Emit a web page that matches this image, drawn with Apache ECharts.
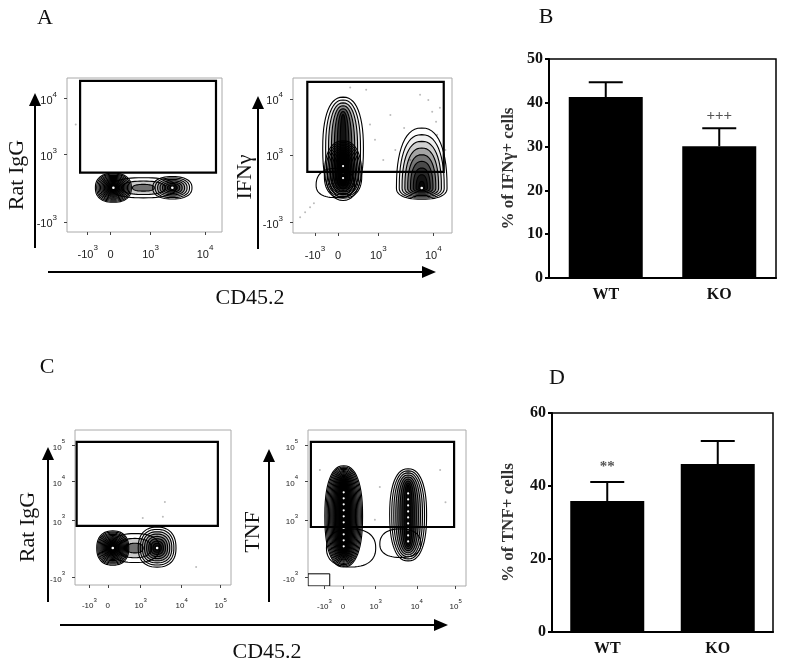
<!DOCTYPE html>
<html><head><meta charset="utf-8">
<script src="https://cdn.jsdelivr.net/npm/echarts@6/dist/echarts.min.js"></script>
<style>html,body{margin:0;padding:0;background:#fff}#c{width:787px;height:668px}</style>
</head><body><div id="c"></div>
<script>
// ---------- bar chart data ----------
const categories = ['WT', 'KO'];
const ifnMean = [41.3, 30.1];
const ifnErr = [3.4, 4.1];
const ifnSig = ['', '+++'];
const tnfMean = [35.9, 46.0];
const tnfErr = [5.2, 6.3];
const tnfSig = ['**', ''];

// ---------- flow axes (display units, biexponential) ----------
const rowAXTicks = [-0.42, 0, 0.73, 1.73];
const rowAXLabels = [['-10', '3'], ['0', ''], ['10', '3'], ['10', '4']];
const rowAYTicks = [-0.61, 0.59, 1.59];
const rowAYLabels = [['-10', '3'], ['10', '3'], ['10', '4']];
const rowCXTicks = [-0.45, 0, 0.8, 1.8, 2.75];
const rowCXLabels = [['-10', '3'], ['0', ''], ['10', '3'], ['10', '4'], ['10', '5']];
const rowCYTicks = [-0.76, 0.74, 1.76, 2.71];
const rowCYLabels = [['-10', '3'], ['10', '3'], ['10', '4'], ['10', '5']];

// gates [x0, y0, x1, y1]
const gateA1 = [[-0.56, 0.27, 1.93, 1.91]];
const gateA2 = [[-0.56, 0.29, 1.92, 1.89]];
const gateC1 = [[-0.76, 0.58, 2.68, 2.79]];
const gateC2 = [[-0.78, 0.55, 2.71, 2.79]];
const smallGateC2 = [[-0.85, -1.0, -0.32, -0.68]];

// contour populations [cx, cy, rx, ryUp, ryDown, levels, mode(0 prop,1 column)]
const popsA1 = [
  [0.05, 0, 0.33, 0.26, 0.26, 14, 0],
  [1.13, 0, 0.36, 0.2, 0.2, 8, 0],
  [0.6, 0, 0.6, 0.18, 0.18, 3, 0]
];
const popsA2 = [
  [0.09, 0.7, 0.37, 0.92, 0.92, 7, 1],
  [0.09, 0.22, 0.34, 0.62, 0.4, 12, 1],
  [-0.05, 0.05, 0.35, 0.3, 0.22, 1, 0],
  [1.52, 0, 0.46, 1.07, 0.2, 9, 0]
];
const popsC1 = [
  [0.12, 0, 0.39, 0.45, 0.45, 15, 0],
  [1.2, 0, 0.46, 0.55, 0.5, 9, 0],
  [0.66, 0, 0.6, 0.38, 0.38, 3, 0]
];
const popsC2 = [
  [0.02, 0.84, 0.46, 1.32, 1.34, 16, 1],
  [0.2, 0.0, 0.6, 0.5, 0.5, 1, 0],
  [1.59, 0.87, 0.45, 1.21, 1.21, 9, 1],
  [1.4, 0.1, 0.5, 0.4, 0.35, 1, 0]
];

// sparse events
const dotsA1 = [[-0.64, 1.13]];
const dotsA2 = [[-0.69, -0.52], [-0.6, -0.43], [-0.51, -0.34], [-0.44, -0.27], [0.58, 1.13], [0.67, 0.86],
  [0.95, 1.3], [1.2, 1.07], [1.64, 1.57], [1.71, 1.36], [1.78, 1.18], [1.8, 0.95], [1.85, 1.43], [1.04, 0.68],
  [0.82, 0.5], [0.51, 1.75], [0.22, 1.79], [1.31, 0.5], [1.49, 1.66], [1.95, 0.68]];
const dotsC1 = [[1.39, 1.21], [1.34, 0.82], [0.85, 0.79], [2.15, -0.5]];
const dotsC2 = [[-0.56, 2.05], [0.78, 0.74], [2.37, 2.05], [0.9, 1.6], [2.5, 1.2]];

// ---------- helpers ----------
const SERIF = '"Liberation Serif", "Times New Roman", serif';
const SANS = '"Liberation Sans", Arial, sans-serif';

function fmt(ticks, labels) {
  return function (v) {
    const i = ticks.findIndex(t => Math.abs(t - v) < 1e-6);
    if (i < 0) return '';
    const b = labels[i][0], s = labels[i][1];
    return s ? '{b|' + b + '}{s|' + s + '}' : '{b|' + b + '}';
  };
}
function richFor(bs, ss) {
  return {
    b: { fontSize: bs, fontFamily: SANS, color: '#222', lineHeight: bs + 5, verticalAlign: 'bottom' },
    s: { fontSize: ss, fontFamily: SANS, color: '#222', lineHeight: bs + 5, verticalAlign: 'top' }
  };
}
function flowAxis(grid, min, max, ticks, labels, bs, ss, margin) {
  return {
    type: 'value', gridIndex: grid, min: min, max: max,
    axisLine: { show: false, onZero: false },
    splitLine: { show: false },
    axisTick: { show: true, customValues: ticks, length: 3, lineStyle: { color: '#444', width: 1 } },
    axisLabel: { customValues: ticks, formatter: fmt(ticks, labels), rich: richFor(bs, ss), margin: margin }
  };
}
function ringPoints(c, a, bu, bd) {
  const pts = [];
  for (let i = 0; i < 56; i++) {
    const th = i / 56 * Math.PI * 2, co = Math.cos(th), si = Math.sin(th);
    const ex = Math.sign(co) * Math.pow(Math.abs(co), 0.85), ey = Math.sign(si) * Math.pow(Math.abs(si), 0.85);
    pts.push([c[0] + a * ex, c[1] - (si > 0 ? bu : bd) * ey]);
  }
  return pts;
}
function renderContour(params, api) {
  const cx = api.value(0), cy = api.value(1), rx = api.value(2), ru = api.value(3), rd = api.value(4);
  const n = api.value(5), mode = api.value(6);
  const c = api.coord([cx, cy]);
  const sz = api.size([rx, ru]);
  const rxp = sz[0], rup = sz[1], rdp = api.size([rx, rd])[1];
  const children = [];
  let last = null;
  for (let k = 0; k < n; k++) {
    const t = k / n;
    let a, bu, bd;
    if (mode === 0) { a = rxp * (1 - t); bu = rup * (1 - t); bd = rdp * (1 - t); }
    else { const d = rxp * t; a = Math.max(rxp - d, 0.8); bu = Math.max(rup - d, 1); bd = Math.max(rdp - d, 1); }
    last = [a, bu, bd];
    const alpha = 0.7 * Math.pow(t, 1.1);
    children.push({ type: 'polygon', shape: { points: ringPoints(c, a, bu, bd) },
      style: { fill: 'rgba(0,0,0,' + alpha.toFixed(3) + ')', stroke: '#000', lineWidth: 1.1 } });
  }
  if (n >= 8) {
    if (mode === 0) {
      children.push({ type: 'circle', shape: { cx: c[0], cy: c[1], r: 1.3 }, style: { fill: '#fff' } });
    } else {
      const top = c[1] - last[1] + 3, bot = c[1] + last[2] - 3;
      for (let y = bot; y >= top; y -= 6) {
        children.push({ type: 'circle', shape: { cx: c[0], cy: y, r: 1.1 }, style: { fill: '#fff' } });
      }
    }
  }
  const cs = params.coordSys;
  return { type: 'group', children: children,
    clipPath: { type: 'rect', shape: { x: cs.x, y: cs.y, width: cs.width, height: cs.height } } };
}
function renderGate(lw) {
  return function (params, api) {
    const p0 = api.coord([api.value(0), api.value(1)]);
    const p1 = api.coord([api.value(2), api.value(3)]);
    const cs = params.coordSys;
    return { type: 'rect', shape: { x: Math.min(p0[0], p1[0]), y: Math.min(p0[1], p1[1]),
      width: Math.abs(p1[0] - p0[0]), height: Math.abs(p1[1] - p0[1]) },
      style: { fill: null, stroke: '#000', lineWidth: lw },
      clipPath: { type: 'rect', shape: { x: cs.x, y: cs.y, width: cs.width, height: cs.height } } };
  };
}
function flowSeries(idx, pops, gates, dots) {
  return [
    { type: 'scatter', xAxisIndex: idx, yAxisIndex: idx, data: dots, symbolSize: 2, itemStyle: { color: '#aaa' }, silent: true, z: 2 },
    { type: 'custom', xAxisIndex: idx, yAxisIndex: idx, data: pops, renderItem: renderContour, silent: true, z: 3 },
    { type: 'custom', xAxisIndex: idx, yAxisIndex: idx, data: gates, renderItem: renderGate(2.2), silent: true, z: 4 }
  ];
}
function barAxes(grid, max, interval, name) {
  return {
    x: { type: 'category', gridIndex: grid, data: categories,
      axisLine: { lineStyle: { color: '#000', width: 2 } },
      axisTick: { alignWithLabel: true, length: 4, lineStyle: { color: '#000', width: 2 } },
      axisLabel: { fontFamily: SERIF, fontSize: 16, fontWeight: 'bold', color: '#111', margin: 9 } },
    y: { type: 'value', gridIndex: grid, min: 0, max: max, interval: interval,
      name: name, nameLocation: 'middle', nameGap: 32,
      nameTextStyle: { fontFamily: SERIF, fontSize: 17, fontWeight: 'bold', color: '#333' },
      axisLine: { show: true, onZero: false, lineStyle: { color: '#000', width: 2 } },
      axisTick: { show: true, length: 4, lineStyle: { color: '#000', width: 2 } },
      splitLine: { show: false },
      axisLabel: { fontFamily: SERIF, fontSize: 16, fontWeight: 'bold', color: '#111', margin: 6 } }
  };
}
function barSeries(idx, mean, err, sig, sigOffset) {
  const rows = mean.map((m, i) => [i, m, err[i]]);
  return [
    { type: 'bar', xAxisIndex: idx, yAxisIndex: idx, data: mean, barWidth: 74, itemStyle: { color: '#000' }, silent: true, z: 2 },
    { type: 'custom', xAxisIndex: idx, yAxisIndex: idx, data: rows, silent: true, z: 3,
      renderItem: function (params, api) {
        const i = api.value(0), m = api.value(1), e = api.value(2);
        const pb = api.coord([i, m]), pt = api.coord([i, m + e]);
        const hw = 17;
        const children = [
          { type: 'line', shape: { x1: pb[0], y1: pb[1], x2: pt[0], y2: pt[1] }, style: { stroke: '#000', lineWidth: 2 } },
          { type: 'line', shape: { x1: pt[0] - hw, y1: pt[1], x2: pt[0] + hw, y2: pt[1] }, style: { stroke: '#000', lineWidth: 2 } }
        ];
        const s = sig[params.dataIndex];
        if (s) children.push({ type: 'text', x: pt[0], y: pt[1] - sigOffset,
          style: { text: s, fontFamily: SERIF, fontSize: 15, fontWeight: 'bold', fill: '#555', align: 'center', verticalAlign: 'middle', textAlign: 'center', textVerticalAlign: 'middle' } });
        return { type: 'group', children: children };
      } }
  ];
}

// ---------- build option ----------
const bB = barAxes(2, 50, 10, '% of IFNγ+ cells');
const bD = barAxes(5, 60, 20, '% of TNF+ cells');
bD.y.nameGap = 35;

const flowGrid = { show: true, borderColor: '#aaa', borderWidth: 1, backgroundColor: 'transparent' };
const barGrid = { show: true, borderColor: '#000', borderWidth: 1.5, backgroundColor: 'transparent' };

function txt(x, y, text, size, rot) {
  return { type: 'text', x: x, y: y, rotation: rot || 0, z: 10,
    style: { text: text, fontFamily: SERIF, fontSize: size, fill: '#111', align: 'center', verticalAlign: 'middle', textAlign: 'center', textVerticalAlign: 'middle' } };
}
function vArrow(x, y0, y1) {
  return [
    { type: 'line', z: 10, shape: { x1: x, y1: y0, x2: x, y2: y1 + 8 }, style: { stroke: '#000', lineWidth: 2 } },
    { type: 'polygon', z: 10, shape: { points: [[x, y1], [x - 6, y1 + 13], [x + 6, y1 + 13]] }, style: { fill: '#000' } }
  ];
}
function hArrow(y, x0, x1) {
  return [
    { type: 'line', z: 10, shape: { x1: x0, y1: y, x2: x1 - 8, y2: y }, style: { stroke: '#000', lineWidth: 2 } },
    { type: 'polygon', z: 10, shape: { points: [[x1, y], [x1 - 14, y - 6], [x1 - 14, y + 6]] }, style: { fill: '#000' } }
  ];
}

const option = {
  animation: false,
  backgroundColor: '#fff',
  grid: [
    Object.assign({ left: 67, top: 78, width: 155, height: 154 }, flowGrid),
    Object.assign({ left: 293, top: 78, width: 159, height: 155 }, flowGrid),
    Object.assign({ left: 549, top: 59, width: 227, height: 219 }, barGrid),
    Object.assign({ left: 75, top: 430, width: 156, height: 155 }, flowGrid),
    Object.assign({ left: 308, top: 430, width: 158, height: 156 }, flowGrid),
    Object.assign({ left: 552, top: 413, width: 221, height: 219 }, barGrid)
  ],
  xAxis: [
    flowAxis(0, -0.8, 2.04, rowAXTicks, rowAXLabels, 11, 8, 12),
    flowAxis(1, -0.82, 2.07, rowAXTicks, rowAXLabels, 11, 8, 12),
    bB.x,
    flowAxis(3, -0.8, 3.0, rowCXTicks, rowCXLabels, 8, 6, 12),
    flowAxis(4, -0.85, 3.0, rowCXTicks, rowCXLabels, 8, 6, 12),
    bD.x
  ],
  yAxis: [
    flowAxis(0, -0.79, 1.96, rowAYTicks, rowAYLabels, 11, 8, 10),
    flowAxis(1, -0.8, 1.96, rowAYTicks, rowAYLabels, 11, 8, 10),
    bB.y,
    flowAxis(3, -0.97, 3.1, rowCYTicks, rowCYLabels, 8, 6, 10),
    flowAxis(4, -1.0, 3.1, rowCYTicks, rowCYLabels, 8, 6, 10),
    bD.y
  ],
  series: [].concat(
    flowSeries(0, popsA1, gateA1, dotsA1),
    flowSeries(1, popsA2, gateA2, dotsA2),
    barSeries(2, ifnMean, ifnErr, ifnSig, 12),
    flowSeries(3, popsC1, gateC1, dotsC1),
    flowSeries(4, popsC2, gateC2, dotsC2),
    [{ type: 'custom', xAxisIndex: 4, yAxisIndex: 4, data: smallGateC2, renderItem: renderGate(1), silent: true, z: 4 }],
    barSeries(5, tnfMean, tnfErr, tnfSig, 15)
  ),
  graphic: [].concat(
    [txt(45, 18, 'A', 22), txt(546, 17, 'B', 22), txt(47, 367, 'C', 22), txt(557, 378, 'D', 22)],
    vArrow(35, 248, 93), vArrow(258, 249, 96), hArrow(272, 48, 436),
    [txt(17, 175, 'Rat IgG', 22, Math.PI / 2), txt(245, 177, 'IFNγ', 22, Math.PI / 2), txt(250, 298, 'CD45.2', 22)],
    vArrow(48, 602, 447), vArrow(269, 602, 449), hArrow(625, 60, 448),
    [txt(28, 527, 'Rat IgG', 22, Math.PI / 2), txt(253, 532, 'TNF', 22, Math.PI / 2), txt(267, 652, 'CD45.2', 22)]
  )
};

const chart = echarts.init(document.getElementById('c'), null, { renderer: 'canvas' });
chart.setOption(option);
</script>
</body></html>
